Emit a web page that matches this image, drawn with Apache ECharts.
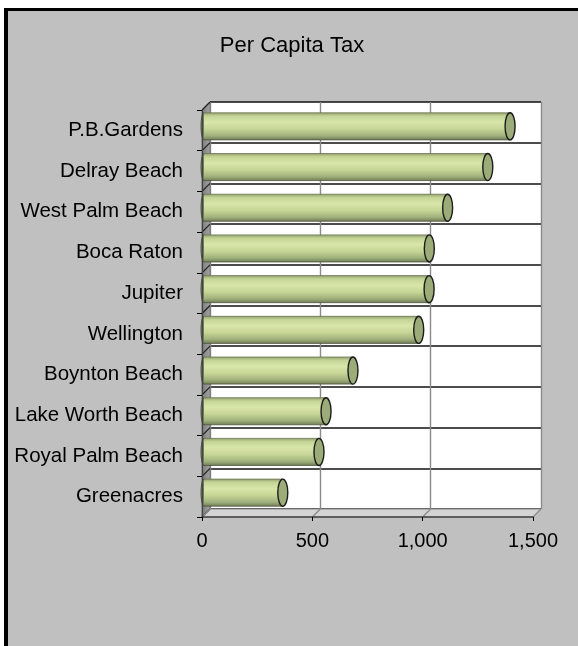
<!DOCTYPE html>
<html>
<head>
<meta charset="utf-8">
<script src="https://cdn.jsdelivr.net/npm/echarts@6/dist/echarts.min.js"></script>
<style>
  html, body { margin: 0; padding: 0; background: #fff; overflow: hidden; }
  #frame {
    position: absolute; left: 4px; top: 8px; width: 640px; height: 700px;
    background: #c0c0c0; border-left: 4px solid #000; border-top: 3px solid #000;
  }
  #chart { position: absolute; left: 0; top: 0; width: 578px; height: 646px; }
</style>
</head>
<body>
<div id="frame"></div>
<div id="chart"></div>
<script>
// Cities, top to bottom
const cities = [
  'P.B.Gardens', 'Delray Beach', 'West Palm Beach', 'Boca Raton', 'Jupiter',
  'Wellington', 'Boynton Beach', 'Lake Worth Beach', 'Royal Palm Beach', 'Greenacres'
];
// Per capita tax, dollars
const perCapitaTax = [1378, 1277, 1095, 1012, 1011, 964, 666, 544, 512, 348];
// Value axis ticks and their labels
const tickValues = [0, 500, 1000, 1500];
const tickLabels = ['0', '500', '1,000', '1,500'];

const FONT = 'Liberation Sans, Arial, sans-serif';
const DEPTH = 8;          // oblique depth of the 3-D box, px
const MID = DEPTH / 2;    // cylinders sit half way into the box

const chart = echarts.init(document.getElementById('chart'), null, { renderer: 'canvas' });

// Side wall and floor of the 3-D plot box
function renderWalls(params, api) {
  const cs = params.coordSys;
  const x = cs.x, y = cs.y, w = cs.width, h = cs.height;
  const n = cities.length;
  const children = [];
  children.push({
    type: 'polygon',
    shape: { points: [[x, y], [x + DEPTH, y - DEPTH], [x + DEPTH, y + h - DEPTH], [x, y + h]] },
    style: {
      fill: { type: 'linear', x: 0, y: 0, x2: 1, y2: 0,
        colorStops: [{ offset: 0, color: '#7c7c7c' }, { offset: 1, color: '#a4a4a4' }] },
      stroke: '#777', lineWidth: 1
    }
  });
  children.push({
    type: 'polygon',
    shape: { points: [[x, y + h], [x + DEPTH, y + h - DEPTH], [x + w + DEPTH, y + h - DEPTH], [x + w, y + h]] },
    style: { fill: '#d4d4d4', stroke: '#888', lineWidth: 1 }
  });
  // category dividers running across the side wall
  for (let i = 0; i <= n; i++) {
    const yy = y + i * h / n;
    children.push({
      type: 'line',
      shape: { x1: x, y1: yy, x2: x + DEPTH, y2: yy - DEPTH },
      style: { stroke: '#222', lineWidth: 1.2 }
    });
  }
  // value gridlines running across the floor
  tickValues.forEach(function (v) {
    const xx = api.coord([v, 0])[0];
    children.push({
      type: 'line',
      shape: { x1: xx, y1: y + h, x2: xx + DEPTH, y2: y + h - DEPTH },
      style: { stroke: '#888', lineWidth: 1.2 }
    });
  });
  return { type: 'group', children: children };
}

// Horizontal cylinder for one city
function renderCylinder(params, api) {
  const start = api.coord([0, api.value(1)]);
  const end = api.coord([api.value(0), api.value(1)]);
  const band = api.size([0, 1])[1];
  const hh = band * 0.665 / 2;
  const cy = start[1] - MID;
  const x0 = start[0] + 1;
  const x1 = end[0] + MID;
  const rx = 5;
  return {
    type: 'group',
    children: [
      {
        type: 'ellipse',
        shape: { cx: x0 + 1, cy: cy, rx: 3, ry: hh },
        style: { fill: '#76845c', stroke: '#3a3a3a', lineWidth: 0.8 }
      },
      {
        type: 'rect',
        shape: { x: x0 + 1, y: cy - hh, width: x1 - x0 - 1, height: hh * 2 },
        style: {
          fill: { type: 'linear', x: 0, y: 0, x2: 0, y2: 1, colorStops: [
            { offset: 0, color: '#95a270' },
            { offset: 0.12, color: '#c4d496' },
            { offset: 0.35, color: '#d8e6aa' },
            { offset: 0.6, color: '#c6d696' },
            { offset: 0.85, color: '#a0b07c' },
            { offset: 1, color: '#727e56' }
          ] }
        }
      },
      {
        type: 'line',
        shape: { x1: x0 + 1, y1: cy - hh, x2: x1, y2: cy - hh },
        style: { stroke: '#6b7552', lineWidth: 0.8 }
      },
      {
        type: 'line',
        shape: { x1: x0 + 1, y1: cy + hh, x2: x1, y2: cy + hh },
        style: { stroke: '#4e5640', lineWidth: 0.8 }
      },
      {
        type: 'ellipse',
        shape: { cx: x1, cy: cy, rx: rx, ry: hh },
        style: { fill: '#9cac78', stroke: '#1c1c1c', lineWidth: 1.4 }
      }
    ]
  };
}

const option = {
  animation: false,
  backgroundColor: 'transparent',
  textStyle: { fontFamily: FONT },
  graphic: [{
    type: 'text', x: 292, y: 46,
    style: { text: 'Per Capita Tax', align: 'center', verticalAlign: 'middle',
      font: '22px ' + FONT, fill: '#000' }
  }],
  grid: [
    // back wall
    { left: 210, top: 102, width: 331, height: 407, show: true,
      backgroundColor: '#fff', borderWidth: 0 },
    // front plane
    { left: 202, top: 110, width: 331, height: 407 }
  ],
  xAxis: [
    { gridIndex: 0, type: 'value', min: 0, max: 1500, interval: 500,
      axisLabel: { show: false }, axisLine: { show: false }, axisTick: { show: false },
      splitLine: { show: true, lineStyle: { color: '#8a8a8a', width: 1.4 } } },
    { gridIndex: 1, type: 'value', min: 0, max: 1500, interval: 500, z: 5,
      splitLine: { show: false },
      axisLine: { show: true, lineStyle: { color: '#444', width: 1.5 } },
      axisTick: { show: true, length: 4, lineStyle: { color: '#000', width: 1 } },
      axisLabel: { margin: 14, fontSize: 20, color: '#000', fontFamily: FONT,
        formatter: function (v) { const i = tickValues.indexOf(v); return i >= 0 ? tickLabels[i] : ''; } } }
  ],
  yAxis: [
    { gridIndex: 0, type: 'category', data: cities, inverse: true,
      axisLabel: { show: false }, axisLine: { show: false }, axisTick: { show: false },
      splitLine: { show: true, lineStyle: { color: '#111', width: 1.5 } } },
    { gridIndex: 1, type: 'category', data: cities, inverse: true, z: 5,
      splitLine: { show: false },
      axisLine: { show: true, lineStyle: { color: '#444', width: 1.2 } },
      axisTick: { show: true, length: 5, lineStyle: { color: '#000', width: 1 } },
      axisLabel: { margin: 19, fontSize: 20.5, color: '#000', fontFamily: FONT } }
  ],
  series: [
    { type: 'custom', name: 'walls', xAxisIndex: 1, yAxisIndex: 1, z: 2, silent: true,
      renderItem: renderWalls, data: [[0, 0]] },
    { type: 'custom', name: 'Per Capita Tax', xAxisIndex: 1, yAxisIndex: 1, z: 3,
      renderItem: renderCylinder, encode: { x: 0, y: 1 },
      data: perCapitaTax.map(function (v, i) { return [v, i]; }) }
  ]
};

chart.setOption(option);
</script>
</body>
</html>
